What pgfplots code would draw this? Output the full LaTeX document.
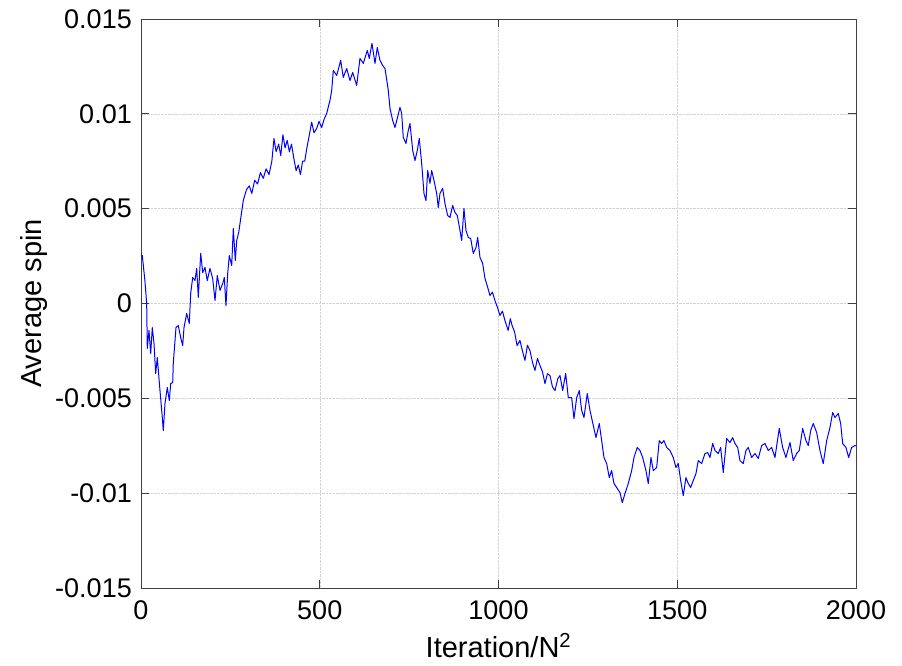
\documentclass[border=0pt]{standalone}
\usepackage{pgfplots}
\pgfplotsset{compat=1.18}
\usepackage{fontspec}
\setmainfont{Liberation Sans}
\begin{document}
\begin{tikzpicture}
\useasboundingbox (-141pt,-78pt) rectangle (761pt,588pt);
\begin{axis}[
 at={(0pt,0pt)}, anchor=south west,
 width=715pt, height=569pt, scale only axis,
 xmin=0, xmax=2000, ymin=-0.015, ymax=0.015,
 scaled y ticks=false, scaled x ticks=false,
 xtick={0,500,1000,1500,2000}, xticklabels={0,500,1000,1500,2000},
 ytick={-0.015,-0.01,-0.005,0,0.005,0.01,0.015},
 yticklabels={-0.015,-0.01,-0.005,0,0.005,0.01,0.015},
 tick align=inside, major tick length=8pt,
 grid=major, major grid style={densely dotted, black!18, line width=0.5pt},
 axis line style={black!75, line width=0.8pt},
 tick style={black!75, line width=0.8pt},
 xticklabel style={font=\fontsize{27}{32}\selectfont, anchor=north, inner sep=0pt, yshift=-12pt},
 yticklabel style={font=\fontsize{27}{32}\selectfont, anchor=east, inner sep=0pt, xshift=-9pt},
 xlabel={Iteration/N\textsuperscript{2}},
 ylabel={Average spin},
 label style={font=\fontsize{29}{34}\selectfont},
 xlabel style={at={(axis description cs:0.5,-0.1213)}, anchor=base, inner sep=0pt},
 ylabel style={at={(axis description cs:-0.1385,0.5)}, anchor=base, inner sep=0pt},
]
\addplot[blue, line width=1pt, line join=round] table {
t v
0 0.0025
3.6 0.00253
10.9 0.00121
15.9 0.0
17.6 -0.00237
22.4 -0.00142
27.1 -0.00264
31.6 -0.00127
36.4 -0.00211
41.1 -0.00369
45.6 -0.00285
53.1 -0.00459
59.6 -0.00601
62.4 -0.00670
67.1 -0.00527
73.6 -0.00443
79.2 -0.00512
83.1 -0.00422
88.7 -0.00417
90.3 -0.00316
97.9 -0.00127
104.3 -0.00116
111.0 -0.00179
116.6 -0.00222
120.3 -0.00127
127.8 -0.00053
135.1 -0.00105
139.0 0.00053
144.6 0.00137
151.0 0.00121
155.8 0.00185
160.3 0.00032
167.0 0.00264
172.6 0.00163
179.0 0.0019
185.4 0.00121
193.0 0.00185
200.5 0.00132
207.0 0.00016
213.4 0.00148
221.0 0.00069
228.5 0.00105
233.0 0.00137
237.7 -0.00011
242.5 0.00158
247.0 0.00253
253.7 0.002
258.2 0.00396
263.8 0.00227
267.7 0.00332
273.3 0.00374
278.9 0.00448
286.1 0.00543
295 0.0060
303 0.0062
310 0.0058
318 0.0065
326 0.0063
334 0.0069
342 0.0066
350 0.0071
358 0.0068
366 0.0075
372 0.0087
378 0.0080
385 0.0084
391 0.0078
397 0.0089
403 0.0082
409 0.0086
415 0.0080
421 0.0084
428 0.0076
434 0.0070
440 0.0073
446 0.0068
452 0.0075
458 0.0075
464 0.0082
470 0.0088
477.4 0.00956
484 0.0090
491.4 0.00923
498 0.0096
505.4 0.00928
512 0.0097
519.4 0.01002
528.6 0.01071
533.4 0.01123
537.9 0.01229
547.4 0.01202
558.6 0.01282
565.8 0.01192
575.3 0.01239
584.6 0.01176
592.1 0.01218
603.3 0.0115
612.5 0.01292
621.8 0.01266
633.0 0.01334
638.6 0.01292
646.1 0.01371
654.5 0.01266
660.9 0.0135
668.5 0.01282
676.0 0.01255
682.5 0.01239
688.9 0.0116
691.7 0.01123
696.5 0.01028
704 0.00965
710.4 0.00928
716.9 0.00976
724.4 0.01034
729.2 0.01002
733.6 0.00876
741.2 0.00844
747.6 0.00912
752.4 0.00949
760 0.00807
766.4 0.00754
772.8 0.00807
778.4 0.0087
785.1 0.00738
791.6 0.0058
797.2 0.00543
801.9 0.00701
808.3 0.00633
813.1 0.00701
819.5 0.00649
827.1 0.0058
831.6 0.00506
836.3 0.0058
843.8 0.00607
850.3 0.00527
857.8 0.00464
864.3 0.00454
871.8 0.00517
878.3 0.0048
884.7 0.00464
892.3 0.00385
897 0.00332
903.4 0.00501
909 0.00385
915.5 0.00348
922.2 0.00343
929.4 0.00264
937 0.00295
941.8 0.00348
948.2 0.00243
955.7 0.00211
962.2 0.00132
969 0.0009
976 0.00042
983 0.0006
990 0.00016
997 -0.0002
1004 -0.00063
1011 -0.0004
1018 -0.0009
1027 -0.00142
1033 -0.0008
1038 -0.00116
1045 -0.0015
1052 -0.00222
1060 -0.00195
1067 -0.0025
1074 -0.003
1081 -0.0022
1088 -0.00248
1095 -0.0031
1102 -0.00353
1109 -0.0029
1116 -0.00327
1123 -0.0036
1130 -0.00422
1137 -0.0037
1144 -0.0038
1151 -0.0044
1158 -0.00459
1166 -0.00396
1172 -0.0038
1179.5 -0.00459
1187.9 -0.00369
1195.2 -0.00496
1204.7 -0.00496
1211.1 -0.00607
1218.7 -0.00496
1226 -0.00459
1232.6 -0.00564
1239.1 -0.00601
1248.3 -0.00475
1255.9 -0.00564
1263.4 -0.00628
1272.6 -0.00707
1281.9 -0.00633
1288.6 -0.00723
1295 -0.00812
1302.6 -0.00844
1309.9 -0.00918
1316.5 -0.00881
1323 -0.00949
1330.5 -0.0097
1339.8 -0.00997
1346.2 -0.0105
1353.8 -0.01002
1363 -0.00949
1372.5 -0.00881
1378.9 -0.00812
1388.2 -0.00759
1395.7 -0.00775
1403.3 -0.00812
1412.5 -0.00881
1418.9 -0.00949
1426.5 -0.00812
1432.9 -0.00881
1442.4 -0.00865
1449.7 -0.00723
1456.4 -0.00738
1462.8 -0.00723
1470.4 -0.00759
1479.6 -0.00775
1488.8 -0.00812
1496.4 -0.00865
1502.8 -0.00844
1509.5 -0.00933
1516.8 -0.01013
1524.3 -0.00918
1530.8 -0.00949
1537.5 -0.0097
1544.8 -0.00933
1552.3 -0.00897
1558.8 -0.00828
1568.3 -0.00844
1577.5 -0.00791
1585.1 -0.00786
1591.5 -0.00812
1599.1 -0.00738
1605.5 -0.00775
1614.7 -0.00791
1621.4 -0.00759
1628.7 -0.00891
1638.2 -0.00712
1647.4 -0.00733
1655 -0.00707
1661.4 -0.00738
1669 -0.00759
1675.4 -0.00828
1684.6 -0.00844
1692.2 -0.00775
1698.6 -0.00759
1708.1 -0.00812
1717.4 -0.00791
1726.6 -0.00817
1736.1 -0.00749
1745.3 -0.00738
1754.6 -0.00775
1764.1 -0.00759
1773.3 -0.00812
1785.3 -0.00659
1794.8 -0.00759
1804 -0.00812
1815.3 -0.00733
1824.5 -0.00828
1834 -0.00791
1841.3 -0.00775
1850.8 -0.00659
1860 -0.00723
1866.5 -0.00749
1873.2 -0.0067
1880.4 -0.00633
1890 -0.0068
1899.2 -0.00775
1908.4 -0.00844
1918 -0.00723
1927.2 -0.00654
1934.7 -0.00575
1941.2 -0.00601
1950.4 -0.0058
1957.1 -0.00633
1962.7 -0.00738
1971.9 -0.00759
1979.5 -0.00812
1987.8 -0.00759
1997.1 -0.00749
2000 -0.0075
};
\end{axis}
\end{tikzpicture}
\end{document}
